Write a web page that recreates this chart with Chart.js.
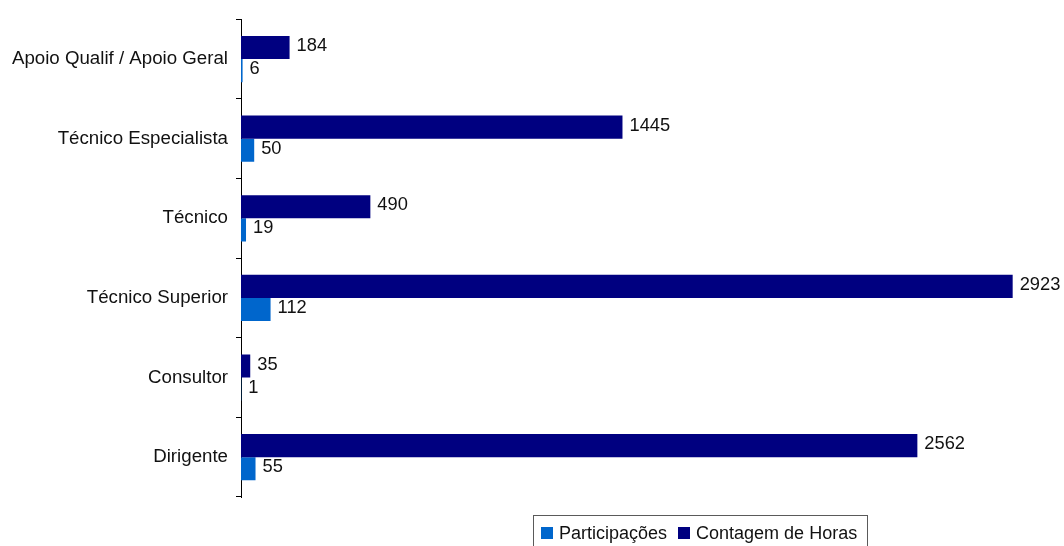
<!DOCTYPE html>
<html>
<head>
<meta charset="utf-8">
<script src="https://cdn.jsdelivr.net/npm/chart.js@4/dist/chart.umd.min.js"></script>
<style>
  html, body { margin: 0; padding: 0; background: #fff; }
  #wrap { position: relative; width: 1064px; height: 546px; overflow: hidden; }
  #chart { position: absolute; left: 0; top: 0; }
  #legend {
    position: absolute; left: 533px; top: 515px; width: 335px; height: 40px;
    border: 1px solid #5a5a5a; box-sizing: border-box;
    font: 18px "Liberation Sans", Arial, sans-serif; color: #111;
    display: flex; align-items: flex-start; padding: 8px 0 0 7px; white-space: nowrap;
  }
  #legend .item { display: flex; align-items: center; margin-right: 11px; line-height: 18px; }
  #legend .sw { width: 12px; height: 12px; margin-right: 6px; }
</style>
</head>
<body>
<div id="wrap">
  <canvas id="chart" width="1064" height="546"></canvas>
  <div id="legend"></div>
</div>
<script>
// Categories (top to bottom)
const categories = [
  'Apoio Qualif / Apoio Geral',
  'Técnico Especialista',
  'Técnico',
  'Técnico Superior',
  'Consultor',
  'Dirigente'
];
// Series values
const contagemHoras = [184, 1445, 490, 2923, 35, 2562];
const participacoes = [6, 50, 19, 112, 1, 55];

const seriesNames = ['Contagem de Horas', 'Participações'];
const seriesColors = ['#000080', '#0066CC'];

const FONT = '"Liberation Sans", Arial, sans-serif';

// Draws each bar's value just past its end
const valueLabels = {
  id: 'valueLabels',
  afterDatasetsDraw(chart) {
    const ctx = chart.ctx;
    ctx.save();
    ctx.font = '18.3px ' + FONT;
    ctx.fillStyle = '#111';
    ctx.textAlign = 'left';
    ctx.textBaseline = 'middle';
    chart.data.datasets.forEach((ds, i) => {
      const meta = chart.getDatasetMeta(i);
      meta.data.forEach((bar, j) => {
        ctx.fillText(String(ds.data[j]), bar.x + 7, bar.y - 1.5);
      });
    });
    ctx.restore();
  }
};

const chart = new Chart(document.getElementById('chart'), {
  type: 'bar',
  data: {
    labels: categories,
    datasets: [
      { label: seriesNames[0], data: contagemHoras, backgroundColor: seriesColors[0] },
      { label: seriesNames[1], data: participacoes, backgroundColor: seriesColors[1] }
    ]
  },
  options: {
    indexAxis: 'y',
    responsive: false,
    animation: false,
    devicePixelRatio: 1,
    layout: { padding: { top: 17, bottom: 49, right: 31, left: 0 } },
    datasets: { bar: { categoryPercentage: 0.58, barPercentage: 1.0 } },
    plugins: {
      legend: { display: false },
      tooltip: { enabled: false }
    },
    scales: {
      x: { type: 'linear', min: 0, max: 3000, display: false },
      y: {
        afterFit(scale) { scale.width = 241; },
        grid: {
          offset: true,
          drawOnChartArea: false,
          drawTicks: true,
          tickLength: 5,
          color: '#000'
        },
        border: { display: true, color: '#000', width: 1 },
        ticks: {
          padding: 8,
          color: '#111',
          font: { family: FONT, size: 18.7 }
        }
      }
    }
  },
  plugins: [valueLabels]
});

// Legend built from the chart's datasets, listed in reverse order
const legendEl = document.getElementById('legend');
chart.data.datasets.slice().reverse().forEach(ds => {
  const item = document.createElement('div');
  item.className = 'item';
  const sw = document.createElement('span');
  sw.className = 'sw';
  sw.style.background = ds.backgroundColor;
  const tx = document.createElement('span');
  tx.textContent = ds.label;
  item.appendChild(sw);
  item.appendChild(tx);
  legendEl.appendChild(item);
});
</script>
</body>
</html>
